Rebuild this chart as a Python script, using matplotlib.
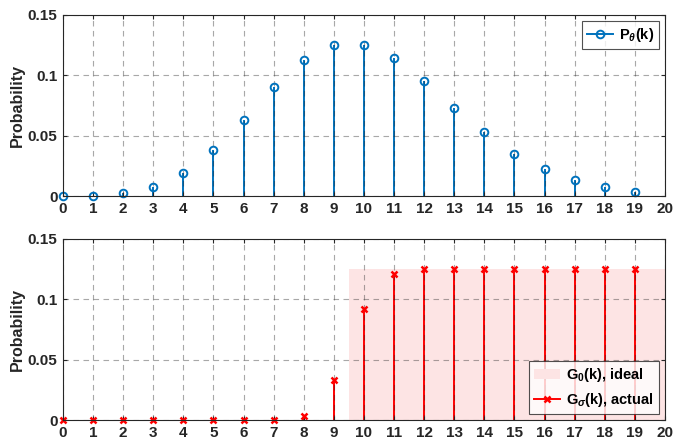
import numpy as np
import matplotlib
matplotlib.use('Agg')
import matplotlib.pyplot as plt
from matplotlib.patches import Patch
from matplotlib.lines import Line2D

# data
k = list(range(20))
p_theta = [0.0, 0.0004, 0.0024, 0.0078, 0.0187, 0.038, 0.063, 0.090, 0.113, 0.125,
           0.125, 0.1146, 0.095, 0.073, 0.053, 0.035, 0.022, 0.013, 0.0073, 0.0035]
g_sigma = [0.0, 0.0, 0.0, 0.0, 0.0, 0.0, 0.0, 0.0, 0.0035, 0.033,
           0.092, 0.121, 0.125, 0.125, 0.125, 0.125, 0.125, 0.125, 0.125, 0.125]
ideal_start = 9.5
ideal_end = 20
ideal_level = 0.125

plt.rcParams['font.family'] = ['Liberation Sans', 'DejaVu Sans']
plt.rcParams['font.weight'] = 'bold'
plt.rcParams['mathtext.fontset'] = 'custom'
plt.rcParams['mathtext.rm'] = 'Liberation Sans:bold'
plt.rcParams['mathtext.it'] = 'Liberation Sans:italic:bold'
plt.rcParams['mathtext.bf'] = 'Liberation Sans:bold'

blue = (0, 0.447, 0.741)
red = (1, 0, 0)
pink = (0.992, 0.894, 0.894)
dark = '0.15'

fig = plt.figure(figsize=(6.74, 4.47), dpi=100)
ax1 = fig.add_axes([0.0935, 0.5615, 0.893, 0.405])
ax2 = fig.add_axes([0.0935, 0.0604, 0.893, 0.405])


def style_axes(ax):
    ax.set_xlim(0, 20)
    ax.set_ylim(0, 0.15)
    ax.set_xticks(range(21))
    ax.set_yticks([0, 0.05, 0.1, 0.15])
    ax.set_yticklabels(['0', '0.05', '0.1', '0.15'])
    ax.tick_params(direction='in', length=3, labelsize=11, width=0.8,
                   top=True, right=True, pad=4, colors=dark)
    for lab in ax.get_xticklabels() + ax.get_yticklabels():
        lab.set_fontweight('bold')
    ax.grid(True, linestyle=(0, (5, 4)), color=dark, alpha=0.4, linewidth=0.8)
    ax.set_axisbelow(False)
    for s in ax.spines.values():
        s.set_color(dark)
        s.set_linewidth(0.8)
        s.set_zorder(6)
    ax.set_ylabel('Probability', fontsize=11.5, fontweight='bold', labelpad=2, color=dark)


# top: P_theta(k)
ax1.vlines(k, 0, p_theta, color=blue, linewidth=1.4, zorder=2)
ax1.plot(k, p_theta, linestyle='none', marker='o', markersize=5.5, markerfacecolor='none',
         markeredgecolor=blue, markeredgewidth=1.4, zorder=4, clip_on=False)
style_axes(ax1)
h1 = Line2D([], [], color=blue, linewidth=1.4, marker='o', markersize=5.5,
            markerfacecolor='none', markeredgewidth=1.4, markevery=[1])
leg1 = ax1.legend([h1], [r'P$_\theta$(k)'], loc='upper right', fontsize=10.5,
                  frameon=True, fancybox=False, edgecolor=dark, borderpad=0.35,
                  handlelength=1.8, handletextpad=0.4, borderaxespad=0.4)
leg1.get_frame().set_linewidth(0.8)
leg1.set_zorder(10)

# bottom: G_0(k) ideal shade and G_sigma(k) actual
ax2.fill_between([ideal_start, ideal_end], 0, ideal_level, color=pink, linewidth=0, zorder=1)
ax2.vlines(k, 0, g_sigma, color=red, linewidth=1.4, zorder=2)
ax2.plot(k, g_sigma, linestyle='none', marker='x', markersize=4, color=red,
         markeredgewidth=1.8, zorder=4, clip_on=False)
style_axes(ax2)
h2a = Patch(facecolor=pink, edgecolor='none')
h2b = Line2D([], [], color=red, linewidth=1.4, marker='x', markersize=4,
             markeredgewidth=1.8, markevery=[1])
leg2 = ax2.legend([h2a, h2b], [r'G$_0$(k), ideal', r'G$_\sigma$(k), actual'],
                  loc='lower right', fontsize=10.5, frameon=True, fancybox=False,
                  edgecolor=dark, borderpad=0.35, handlelength=1.8,
                  handletextpad=0.4, borderaxespad=0.4, labelspacing=0.5)
leg2.get_frame().set_linewidth(0.8)
leg2.set_zorder(10)

fig.savefig('out.png', dpi=100)
